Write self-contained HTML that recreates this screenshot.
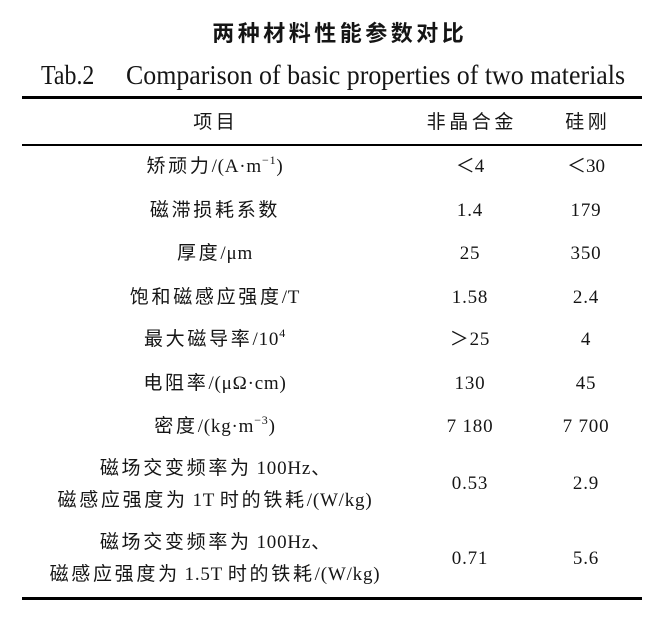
<!DOCTYPE html>
<html>
<head>
<meta charset="utf-8">
<style>
  html,body{margin:0;padding:0;background:#fff;}
  body{width:672px;height:620px;position:relative;overflow:hidden;color:#151515;
       font-family:"Liberation Serif","Noto Sans CJK SC",serif;}
  .abs{position:absolute;white-space:nowrap;}
  .title{left:88px;width:500px;top:19px;height:30px;line-height:30px;text-align:center;
         font-family:"Liberation Sans","Noto Sans CJK SC",sans-serif;font-weight:bold;font-size:22px;
         letter-spacing:3.5px;padding-left:3.5px;box-sizing:border-box;}
  .en{font-size:27px;line-height:30px;top:60px;height:30px;transform-origin:left center;}
  .rule{position:absolute;left:22px;width:620px;background:#000;}
  .row{position:absolute;left:0;width:672px;height:30px;line-height:30px;font-size:19px;}
  .c1,.c2,.c3{position:absolute;top:0;text-align:center;white-space:nowrap;}
  .c1{left:15px;width:400px;}
  .c2{left:410px;width:120px;}
  .c3{left:526px;width:120px;}
  .z{letter-spacing:2.7px;}
  .l{letter-spacing:0.8px;}
  .hd{letter-spacing:3.6px;padding-left:3.6px;}
  sup{font-size:12px;vertical-align:baseline;position:relative;top:-8px;line-height:0;}
  .two{position:absolute;left:15px;width:400px;text-align:center;font-size:19px;line-height:32px;white-space:nowrap;}
</style>
</head>
<body>

<div class="abs title">两种材料性能参数对比</div>
<div class="abs en" style="left:41px;transform:scaleX(0.884);">Tab.2</div>
<div class="abs en" style="left:126px;transform:scaleX(0.959);">Comparison of basic properties of two materials</div>

<div class="rule" style="top:96px;height:3px;"></div>
<div class="rule" style="top:143.5px;height:2.4px;"></div>
<div class="rule" style="top:597px;height:3px;"></div>

<!-- header -->
<div class="row" style="top:107.5px;">
  <div class="c1" style="left:14px;"><span class="hd">项目</span></div>
  <div class="c2"><span class="hd">非晶合金</span></div>
  <div class="c3"><span class="hd">硅刚</span></div>
</div>

<div class="row" style="top:152px;">
  <div class="c1"><span class="z">矫顽力</span><span class="l">/(A·m<sup>−1</sup>)</span></div>
  <div class="c2">＜4</div>
  <div class="c3">＜30</div>
</div>

<div class="row" style="top:196px;">
  <div class="c1"><span class="z">磁滞损耗系数</span></div>
  <div class="c2 l">1.4</div>
  <div class="c3 l">179</div>
</div>

<div class="row" style="top:238.5px;">
  <div class="c1"><span class="z">厚度</span><span class="l">/μm</span></div>
  <div class="c2 l">25</div>
  <div class="c3 l">350</div>
</div>

<div class="row" style="top:282.5px;">
  <div class="c1"><span class="z">饱和磁感应强度</span><span class="l">/T</span></div>
  <div class="c2 l">1.58</div>
  <div class="c3 l">2.4</div>
</div>

<div class="row" style="top:325px;">
  <div class="c1"><span class="z">最大磁导率</span><span class="l">/10<sup>4</sup></span></div>
  <div class="c2 l">＞25</div>
  <div class="c3 l">4</div>
</div>

<div class="row" style="top:369px;">
  <div class="c1"><span class="z">电阻率</span><span class="l">/(μΩ·cm)</span></div>
  <div class="c2 l">130</div>
  <div class="c3 l">45</div>
</div>

<div class="row" style="top:412px;">
  <div class="c1"><span class="z">密度</span><span class="l">/(kg·m<sup>−3</sup>)</span></div>
  <div class="c2 l">7 180</div>
  <div class="c3 l">7 700</div>
</div>

<div class="two" style="top:453px;">
  <div><span class="z">磁场交变频率为</span> <span class="l">100Hz</span>、</div>
  <div><span class="z">磁感应强度为</span> <span class="l">1T</span> <span class="z">时的铁耗</span><span class="l">/(W/kg)</span></div>
</div>
<div class="row" style="top:469px;">
  <div class="c2 l">0.53</div>
  <div class="c3 l">2.9</div>
</div>

<div class="two" style="top:527px;">
  <div><span class="z">磁场交变频率为</span> <span class="l">100Hz</span>、</div>
  <div><span class="z">磁感应强度为</span> <span class="l">1.5T</span> <span class="z">时的铁耗</span><span class="l">/(W/kg)</span></div>
</div>
<div class="row" style="top:543.5px;">
  <div class="c2 l">0.71</div>
  <div class="c3 l">5.6</div>
</div>

</body>
</html>
